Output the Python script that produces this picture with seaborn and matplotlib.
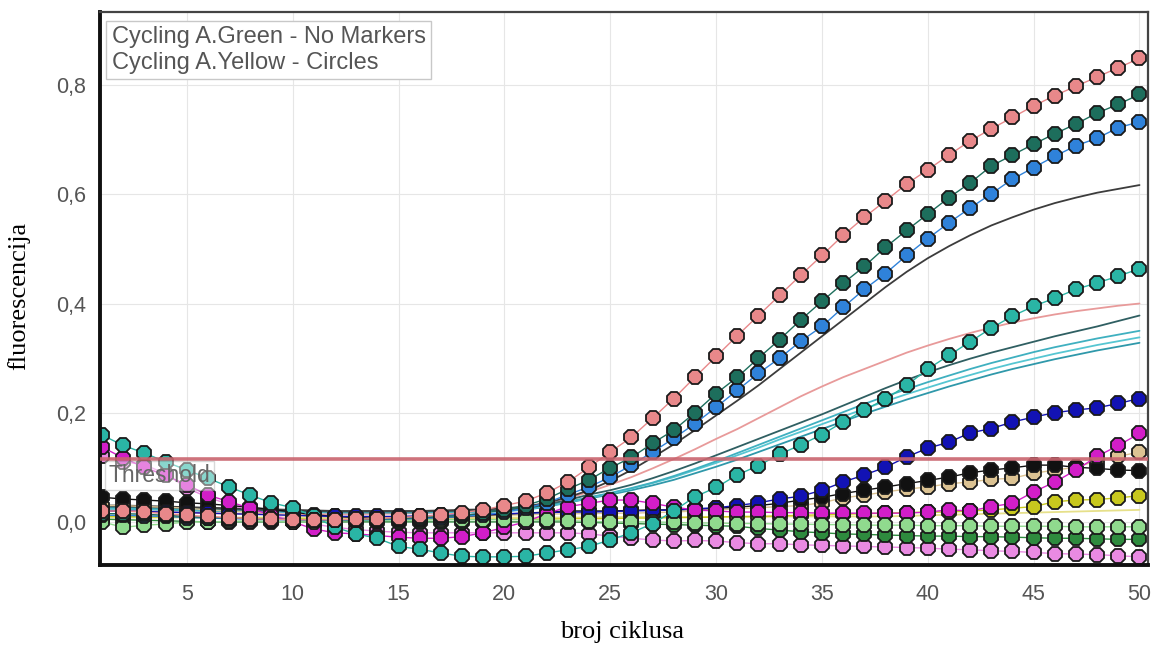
import numpy as np
import pandas as pd
import seaborn as sns
import matplotlib.pyplot as plt

# cycle numbers
cycles = list(range(1, 51))

# Cycling A.Yellow - circles (marker series)
salmon_y = [0.020, 0.020, 0.018, 0.015, 0.012, 0.010, 0.008, 0.006, 0.005, 0.004,
            0.004, 0.004, 0.005, 0.006, 0.008, 0.010, 0.013, 0.017, 0.022, 0.030,
            0.038, 0.053, 0.073, 0.100, 0.128, 0.155, 0.190, 0.226, 0.265, 0.303,
            0.341, 0.378, 0.415, 0.452, 0.488, 0.525, 0.558, 0.588, 0.619, 0.645,
            0.672, 0.698, 0.720, 0.741, 0.762, 0.781, 0.798, 0.815, 0.832, 0.849]
darkgreen_y = [0.015, 0.015, 0.014, 0.012, 0.010, 0.008, 0.007, 0.006, 0.005, 0.004,
               0.004, 0.004, 0.004, 0.005, 0.006, 0.008, 0.010, 0.012, 0.016, 0.022,
               0.030, 0.042, 0.060, 0.077, 0.099, 0.118, 0.144, 0.168, 0.200, 0.235,
               0.265, 0.300, 0.334, 0.370, 0.404, 0.437, 0.468, 0.503, 0.534, 0.564,
               0.594, 0.621, 0.652, 0.672, 0.692, 0.711, 0.729, 0.749, 0.765, 0.783]
blue_y = [0.012, 0.012, 0.011, 0.010, 0.008, 0.007, 0.006, 0.005, 0.004, 0.004,
          0.003, 0.003, 0.004, 0.004, 0.005, 0.006, 0.008, 0.010, 0.013, 0.018,
          0.025, 0.035, 0.050, 0.064, 0.082, 0.104, 0.128, 0.153, 0.180, 0.210,
          0.241, 0.272, 0.300, 0.331, 0.358, 0.393, 0.426, 0.455, 0.488, 0.519,
          0.548, 0.575, 0.601, 0.628, 0.649, 0.670, 0.689, 0.703, 0.722, 0.733]
teal_y = [0.159, 0.140, 0.126, 0.110, 0.095, 0.080, 0.064, 0.049, 0.035, 0.026,
          0.010, -0.010, -0.022, -0.030, -0.045, -0.050, -0.057, -0.063, -0.064, -0.064,
          -0.063, -0.057, -0.051, -0.045, -0.033, -0.020, -0.003, 0.020, 0.046, 0.063,
          0.086, 0.103, 0.124, 0.141, 0.160, 0.183, 0.205, 0.225, 0.250, 0.280,
          0.305, 0.330, 0.355, 0.377, 0.395, 0.410, 0.426, 0.438, 0.450, 0.464]
navy_y = [0.020, 0.020, 0.019, 0.018, 0.017, 0.016, 0.015, 0.014, 0.013, 0.012,
          0.011, 0.010, 0.010, 0.010, 0.010, 0.011, 0.012, 0.013, 0.014, 0.015,
          0.016, 0.017, 0.018, 0.018, 0.019, 0.020, 0.021, 0.022, 0.024, 0.026,
          0.030, 0.035, 0.042, 0.047, 0.058, 0.073, 0.086, 0.100, 0.119, 0.135,
          0.146, 0.163, 0.171, 0.183, 0.192, 0.200, 0.205, 0.209, 0.217, 0.226]
magenta_y = [0.137, 0.117, 0.100, 0.085, 0.068, 0.049, 0.037, 0.025, 0.012, 0.000,
             -0.013, -0.020, -0.022, -0.025, -0.028, -0.030, -0.030, -0.027, -0.020, -0.010,
             0.000, 0.015, 0.028, 0.034, 0.040, 0.040, 0.034, 0.027, 0.022, 0.020,
             0.018, 0.018, 0.017, 0.017, 0.016, 0.016, 0.016, 0.016, 0.016, 0.018,
             0.022, 0.020, 0.028, 0.034, 0.055, 0.073, 0.095, 0.120, 0.140, 0.162]
violet_y = [0.120, 0.110, 0.105, 0.088, 0.062, 0.045, 0.032, 0.022, 0.012, 0.004,
            -0.004, -0.010, -0.014, -0.017, -0.019, -0.020, -0.020, -0.020, -0.020, -0.020,
            -0.020, -0.020, -0.020, -0.022, -0.026, -0.030, -0.033, -0.035, -0.034, -0.035,
            -0.038, -0.040, -0.040, -0.042, -0.043, -0.044, -0.045, -0.046, -0.047, -0.048,
            -0.050, -0.051, -0.053, -0.054, -0.056, -0.058, -0.059, -0.060, -0.062, -0.064]
tan_y = [0.030, 0.030, 0.028, 0.027, 0.025, 0.022, 0.020, 0.018, 0.015, 0.012,
         0.010, 0.008, 0.007, 0.006, 0.006, 0.006, 0.007, 0.008, 0.010, 0.012,
         0.013, 0.014, 0.015, 0.015, 0.016, 0.016, 0.017, 0.018, 0.020, 0.022,
         0.024, 0.026, 0.028, 0.030, 0.035, 0.044, 0.049, 0.055, 0.060, 0.064,
         0.070, 0.073, 0.078, 0.080, 0.089, 0.095, 0.100, 0.112, 0.120, 0.128]
black_y = [0.045, 0.042, 0.040, 0.038, 0.035, 0.033, 0.030, 0.027, 0.023, 0.018,
           0.013, 0.010, 0.008, 0.006, 0.006, 0.007, 0.008, 0.010, 0.012, 0.014,
           0.016, 0.018, 0.020, 0.020, 0.020, 0.021, 0.022, 0.022, 0.023, 0.025,
           0.027, 0.030, 0.034, 0.040, 0.045, 0.052, 0.058, 0.064, 0.070, 0.076,
           0.082, 0.090, 0.095, 0.099, 0.104, 0.104, 0.100, 0.098, 0.095, 0.094]
olive_y = [0.010, 0.010, 0.009, 0.009, 0.008, 0.008, 0.007, 0.007, 0.006, 0.006,
           0.005, 0.005, 0.005, 0.005, 0.005, 0.005, 0.005, 0.005, 0.005, 0.005,
           0.005, 0.005, 0.006, 0.006, 0.006, 0.007, 0.007, 0.008, 0.008, 0.009,
           0.010, 0.010, 0.011, 0.012, 0.013, 0.014, 0.015, 0.016, 0.017, 0.018,
           0.018, 0.020, 0.022, 0.025, 0.028, 0.037, 0.040, 0.041, 0.044, 0.048]
lightgreen_y = [0.000, -0.010, -0.006, -0.004, 0.000, 0.000, 0.001, 0.002, 0.001, 0.000,
                0.000, 0.002, 0.003, 0.003, 0.003, 0.003, 0.004, 0.004, 0.004, 0.004,
                0.004, 0.003, 0.002, 0.001, 0.000, 0.000, 0.000, -0.001, -0.002, -0.002,
                -0.003, -0.003, -0.004, -0.004, -0.005, -0.005, -0.006, -0.006, -0.006, -0.007,
                -0.007, -0.007, -0.008, -0.008, -0.008, -0.008, -0.009, -0.009, -0.009, -0.009]
forest_y = [0.005, 0.004, 0.003, 0.002, 0.001, 0.000, 0.000, 0.000, 0.000, 0.000,
            0.000, 0.000, 0.000, 0.000, 0.000, 0.000, 0.000, 0.000, 0.000, 0.000,
            0.000, 0.000, 0.000, -0.001, -0.002, -0.003, -0.004, -0.005, -0.006, -0.007,
            -0.008, -0.012, -0.015, -0.018, -0.020, -0.022, -0.023, -0.024, -0.025, -0.026,
            -0.026, -0.027, -0.027, -0.028, -0.029, -0.030, -0.030, -0.031, -0.032, -0.032]

# Cycling A.Green - no markers (line series)
greyline_y = [0.030, 0.030, 0.029, 0.028, 0.027, 0.026, 0.025, 0.024, 0.023, 0.022,
              0.021, 0.020, 0.020, 0.020, 0.020, 0.020, 0.021, 0.022, 0.023, 0.025,
              0.028, 0.035, 0.045, 0.058, 0.075, 0.095, 0.118, 0.142, 0.168, 0.195,
              0.222, 0.250, 0.280, 0.310, 0.340, 0.370, 0.400, 0.430, 0.458, 0.483,
              0.505, 0.525, 0.543, 0.558, 0.572, 0.584, 0.594, 0.603, 0.610, 0.617]
pinkline_y = [0.020, 0.020, 0.019, 0.018, 0.017, 0.016, 0.015, 0.015, 0.014, 0.014,
              0.014, 0.014, 0.014, 0.015, 0.015, 0.016, 0.017, 0.018, 0.019, 0.021,
              0.025, 0.033, 0.043, 0.055, 0.068, 0.082, 0.098, 0.115, 0.133, 0.152,
              0.170, 0.190, 0.210, 0.230, 0.248, 0.265, 0.280, 0.295, 0.310, 0.323,
              0.335, 0.346, 0.356, 0.365, 0.373, 0.380, 0.386, 0.391, 0.396, 0.400]
slateline_y = [0.028, 0.028, 0.027, 0.026, 0.025, 0.024, 0.023, 0.022, 0.021, 0.020,
               0.020, 0.019, 0.019, 0.019, 0.019, 0.019, 0.020, 0.020, 0.021, 0.022,
               0.025, 0.032, 0.040, 0.050, 0.058, 0.068, 0.080, 0.093, 0.107, 0.122,
               0.137, 0.152, 0.167, 0.182, 0.197, 0.213, 0.229, 0.245, 0.260, 0.274,
               0.287, 0.299, 0.310, 0.320, 0.330, 0.340, 0.349, 0.358, 0.368, 0.378]
cyan1_y = [0.026, 0.026, 0.025, 0.024, 0.023, 0.022, 0.021, 0.020, 0.020, 0.019,
           0.019, 0.018, 0.018, 0.018, 0.018, 0.018, 0.019, 0.019, 0.020, 0.021,
           0.024, 0.030, 0.037, 0.045, 0.053, 0.062, 0.072, 0.084, 0.097, 0.111,
           0.126, 0.141, 0.156, 0.171, 0.186, 0.201, 0.216, 0.230, 0.243, 0.256,
           0.268, 0.280, 0.291, 0.301, 0.311, 0.320, 0.328, 0.336, 0.343, 0.350]
cyan2_y = [0.025, 0.025, 0.024, 0.023, 0.022, 0.021, 0.020, 0.020, 0.019, 0.019,
           0.018, 0.018, 0.018, 0.018, 0.018, 0.018, 0.018, 0.019, 0.019, 0.020,
           0.023, 0.029, 0.036, 0.044, 0.052, 0.061, 0.071, 0.082, 0.095, 0.108,
           0.122, 0.136, 0.151, 0.165, 0.179, 0.193, 0.207, 0.221, 0.234, 0.246,
           0.258, 0.269, 0.280, 0.290, 0.299, 0.308, 0.316, 0.324, 0.331, 0.338]
cyan3_y = [0.024, 0.024, 0.023, 0.022, 0.021, 0.020, 0.020, 0.019, 0.019, 0.018,
           0.018, 0.017, 0.017, 0.017, 0.017, 0.017, 0.018, 0.018, 0.019, 0.020,
           0.022, 0.028, 0.035, 0.043, 0.050, 0.058, 0.067, 0.077, 0.089, 0.101,
           0.114, 0.128, 0.142, 0.156, 0.170, 0.184, 0.198, 0.211, 0.224, 0.236,
           0.248, 0.259, 0.270, 0.280, 0.289, 0.298, 0.306, 0.314, 0.321, 0.328]
yellowline_y = [0.008, 0.008, 0.008, 0.008, 0.008, 0.008, 0.008, 0.008, 0.008, 0.008,
                0.008, 0.008, 0.008, 0.008, 0.008, 0.008, 0.008, 0.008, 0.008, 0.008,
                0.008, 0.008, 0.008, 0.008, 0.009, 0.009, 0.009, 0.009, 0.009, 0.009,
                0.009, 0.009, 0.010, 0.010, 0.010, 0.010, 0.010, 0.010, 0.011, 0.012,
                0.013, 0.014, 0.015, 0.016, 0.017, 0.018, 0.019, 0.020, 0.021, 0.022]

threshold = 0.115
y_ticks = [0.0, 0.2, 0.4, 0.6, 0.8]
y_ticklabels = ["0,0", "0,2", "0,4", "0,6", "0,8"]
x_ticks = [5, 10, 15, 20, 25, 30, 35, 40, 45, 50]

line_series = [
    (pinkline_y, "#e89a9a"),
    (yellowline_y, "#e6e08a"),
    (cyan3_y, "#2f98aa"),
    (cyan2_y, "#56c6d2"),
    (cyan1_y, "#3fb0c0"),
    (slateline_y, "#2f5f62"),
    (greyline_y, "#3c3c3c"),
]

marker_series = [
    (violet_y, "#e98ae2"),
    (forest_y, "#2e8b3e"),
    (olive_y, "#c8c81e"),
    (tan_y, "#dcc393"),
    (black_y, "#111111"),
    (navy_y, "#1212b4"),
    (magenta_y, "#d21ec8"),
    (lightgreen_y, "#90da8e"),
    (teal_y, "#2ab5a5"),
    (blue_y, "#2f82da"),
    (darkgreen_y, "#1d6e5c"),
    (salmon_y, "#e8888a"),
]

sns.set_style("whitegrid", {"grid.color": "#e6e6e6"})
plt.rcParams["font.family"] = ["Liberation Sans", "DejaVu Sans"]

fig = plt.figure(figsize=(11.52, 6.49), dpi=100)
ax = fig.add_axes([0.0868, 0.1294, 0.9097, 0.8521])

for vals, col in line_series:
    sns.lineplot(x=cycles, y=vals, ax=ax, color=col, linewidth=1.3,
                 estimator=None, sort=False)

for vals, col in marker_series:
    sns.lineplot(x=cycles, y=vals, ax=ax, color=col, linewidth=1.0,
                 estimator=None, sort=False, marker="8", markersize=11,
                 markeredgecolor="#1a1a1a", markeredgewidth=1.3)

# threshold line
ax.axhline(threshold, color="#c9646e", linewidth=2.6, alpha=0.9, zorder=5)
ax.text(1.3, threshold - 0.009, "Threshold", fontsize=16.5, color="#666666",
        va="top", ha="left", zorder=6,
        bbox=dict(boxstyle="square,pad=0.15", facecolor="white", alpha=0.45,
                  edgecolor="#aaaaaa", linewidth=1))

# legend box
ax.text(0.011, 0.975, "Cycling A.Green - No Markers\nCycling A.Yellow - Circles",
        transform=ax.transAxes, fontsize=17, color="#555555", va="top", ha="left",
        linespacing=1.22, zorder=7,
        bbox=dict(boxstyle="square,pad=0.22", facecolor="white",
                  edgecolor="#c8c8c8", linewidth=1))

ax.set_xlim(0.9, 50.4)
ax.set_ylim(-0.079, 0.934)
ax.set_xticks(x_ticks)
ax.set_yticks(y_ticks)
ax.set_yticklabels(y_ticklabels)
ax.set_xlabel("")
ax.set_ylabel("")
ax.tick_params(axis="both", direction="out", length=5, width=1, color="#999999",
               labelcolor="#555555", labelsize=15.5, pad=5)
ax.tick_params(axis="x", pad=9)

for side in ["left", "bottom"]:
    ax.spines[side].set_color("#111111")
    ax.spines[side].set_linewidth(2.8)
for side in ["top", "right"]:
    ax.spines[side].set_color("#444444")
    ax.spines[side].set_linewidth(1.6)

fig.text(0.016, 0.544, "fluorescencija", rotation=90, ha="center", va="center",
         fontsize=19, family="Liberation Serif", color="black")
fig.text(0.54, 0.026, "broj ciklusa", ha="center", va="center",
         fontsize=19, family="Liberation Serif", color="black")

fig.savefig("out.png", dpi=100)
